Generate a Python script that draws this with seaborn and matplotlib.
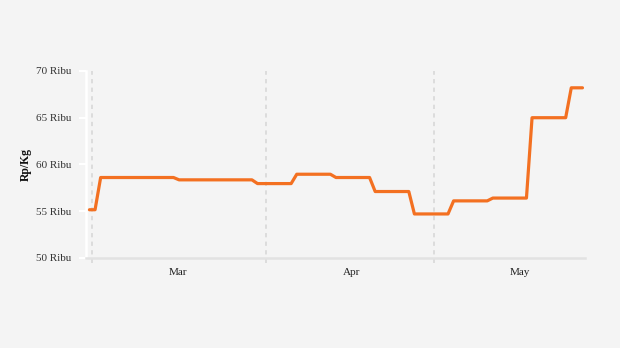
import matplotlib
matplotlib.use("Agg")
import matplotlib.pyplot as plt
import seaborn as sns
import pandas as pd
import numpy as np

# --- data (weekly price changes, vertices of the daily series) ---
dates = ["2024-02-29", "2024-03-01", "2024-03-02", "2024-03-15", "2024-03-16",
         "2024-03-29", "2024-03-30", "2024-04-05", "2024-04-06", "2024-04-12",
         "2024-04-13", "2024-04-19", "2024-04-20", "2024-04-26", "2024-04-27",
         "2024-05-03", "2024-05-04", "2024-05-10", "2024-05-11", "2024-05-17",
         "2024-05-18", "2024-05-24", "2024-05-25", "2024-05-27"]
prices = [55150, 55150, 58600, 58600, 58350, 58350, 57950, 57950, 58950, 58950,
          58600, 58600, 57100, 57100, 54700, 54700, 56100, 56100, 56400, 56400,
          65000, 65000, 68200, 68200]
month_starts = ["2024-03-01", "2024-04-01", "2024-05-01"]
month_labels = ["Mar", "Apr", "May"]
month_mids = ["2024-03-16", "2024-04-16", "2024-05-16"]
y_ticks = [50000, 55000, 60000, 65000, 70000]
y_labels = ["50 Ribu", "55 Ribu", "60 Ribu", "65 Ribu", "70 Ribu"]

df = pd.DataFrame({"date": pd.to_datetime(dates), "price": prices})

sns.set_theme(style="white")
plt.rcParams["font.family"] = ["Liberation Serif", "DejaVu Serif"]

bg = "#f4f4f4"
fig = plt.figure(figsize=(6.2, 3.48), dpi=100, facecolor=bg)
ax = fig.add_axes([0.139, 0.259, 0.805, 0.537], facecolor=bg)

half = pd.Timedelta(hours=12)

# vertical dashed month gridlines
for m in month_starts:
    ax.axvline(pd.Timestamp(m) - half, ymin=-0.025, ymax=1.0, color="#dcdcdc",
               lw=1.4, ls=(0, (2.2, 2.2)), clip_on=False, zorder=1)

sns.lineplot(data=df, x="date", y="price", ax=ax, color="#f37021", lw=2.3,
             zorder=3)

ax.set_ylim(50000, 70000)
ax.set_xlim(pd.Timestamp("2024-02-28 10:00"), pd.Timestamp("2024-05-27 12:00"))

ax.set_yticks(y_ticks)
ax.set_yticklabels(y_labels, fontsize=8, color="#333333")
ax.set_xticks([pd.Timestamp(d) - pd.Timedelta(hours=3) for d in month_mids])
ax.set_xticklabels(month_labels, fontsize=8, color="#222222")

ax.tick_params(axis="y", length=5, width=1.5, color="white", pad=6, left=True)
ax.tick_params(axis="x", length=0, pad=7)

ax.set_xlabel("")
ax.set_ylabel("Rp/Kg", fontsize=8.5, fontweight="bold", color="#111111", labelpad=3)

for s in ["top", "right"]:
    ax.spines[s].set_visible(False)
ax.spines["left"].set_color("white")
ax.spines["left"].set_linewidth(1.8)
ax.spines["bottom"].set_color("#e2e2e2")
ax.spines["bottom"].set_linewidth(1.8)
ax.grid(False)

fig.savefig("out.png", dpi=100, facecolor=bg)
